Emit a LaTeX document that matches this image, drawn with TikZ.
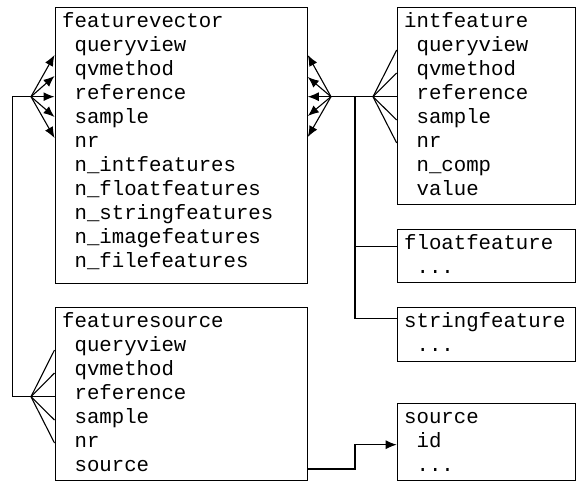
\documentclass[tikz,border=0pt]{standalone}
\usepackage{fontspec}
\newfontfamily\tablefont{Liberation Mono}
\usetikzlibrary{arrows.meta,calc}

% placeholder row; a macro keeps \foreach from reading it as a range
\newcommand\morefields{...}

% one table: name, x, y of the title row, title, list of fields
\newcommand\dbtable[5]{%
  \node[field] (#1-t) at (#2,#3) {#4};
  \foreach \t [count=\k] in {#5}
    \node[field] (#1-\k) at (#2+12.4,#3+\k*24.05) {\t};
}

\begin{document}
\begin{tikzpicture}[x=1pt,y=-1pt,
  table/.style={draw, line width=1.1pt, rectangle, inner sep=0pt, anchor=north west},
  field/.style={anchor=mid west, inner sep=0pt,
    font={\tablefont\fontsize{20.7pt}{24pt}\selectfont}},
  link/.style={line width=1.1pt},
  fk/.style={link, -{Latex[length=11pt,width=9pt]}}]
\useasboundingbox (0,0) rectangle (576,481);

% table frames
\node[table, minimum width=252.2pt, minimum height=276pt] (fv) at (54.5,6.7) {};
\node[table, minimum width=252.2pt, minimum height=173pt] (fs) at (54.5,307) {};
\node[table, minimum width=178.6pt, minimum height=197pt] (if) at (396.7,7) {};
\node[table, minimum width=178.6pt, minimum height=52.4pt] (ff) at (396.7,229.3) {};
\node[table, minimum width=178.6pt, minimum height=54pt] (sf) at (396.7,306.7) {};
\node[table, minimum width=178.6pt, minimum height=77.3pt] (src) at (396.7,402.7) {};

% table contents
\dbtable{fvt}{62}{25}{featurevector}{queryview,qvmethod,reference,sample,nr,
  n\_intfeatures,n\_floatfeatures,n\_stringfeatures,n\_imagefeatures,n\_filefeatures}
\dbtable{fst}{62}{325}{featuresource}{queryview,qvmethod,reference,sample,nr,source}
\dbtable{ift}{404}{25}{intfeature}{queryview,qvmethod,reference,sample,nr,n\_comp,value}
\dbtable{fft}{404}{247.3}{floatfeature}{\morefields}
\dbtable{sft}{404}{325}{stringfeature}{\morefields}
\dbtable{srct}{404}{421.7}{source}{id,\morefields}

% junction points of the key fans
\coordinate (fvL) at (31,96.7);
\coordinate (fvR) at (331,96.7);
\coordinate (ifL) at (373,96.7);
\coordinate (fsL) at (31,396.7);
\coordinate (bus) at (355,96.7);
\coordinate (busF) at (355,246.7);
\coordinate (busS) at (355,318.7);
\coordinate (edgeTop) at (12.7,96.7);
\coordinate (edgeBot) at (12.7,396.7);
\coordinate (srcBend) at (355,469);
\coordinate (srcBend2) at (355,444.7);

% featurevector <-> featuresource
\foreach \y in {55,76,96.7,117,138}
  \draw[fk] (fvL) -- (fv.west |- 0,\y);
\draw[link] (fvL) -- (edgeTop) -- (edgeBot) -- (fsL);
\foreach \y in {350,373,396.7,420,443}
  \draw[link] (fsL) -- (fs.west |- 0,\y);

% featurevector <-> typed features
\foreach \y in {55,77,96.7,116,137}
  \draw[fk] (fvR) -- (fv.east |- 0,\y);
\draw[link] (fvR) -- (ifL);
\foreach \y in {50,73,96.7,120,143}
  \draw[link] (ifL) -- (if.west |- 0,\y);
\draw[link] (bus) -- (busS) -- (sf.west |- busS);
\draw[link] (busF) -- (ff.west |- busF);

% featuresource -> source
\draw[fk] (fs.east |- srcBend) -- (srcBend) -- (srcBend2) -- (src.west |- srcBend2);
\end{tikzpicture}
\end{document}
